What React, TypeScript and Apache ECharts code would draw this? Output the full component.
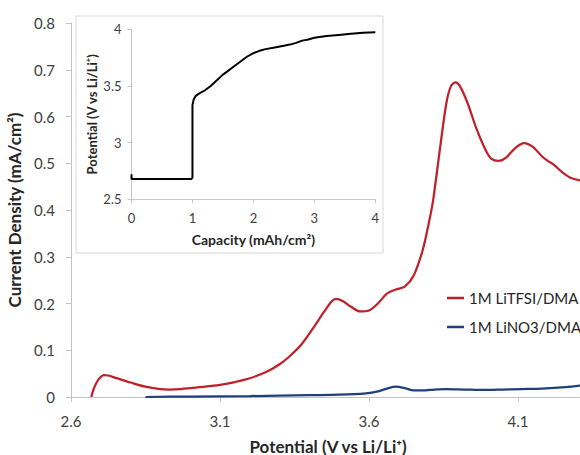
import React, { useEffect, useRef } from "react";
import * as echarts from "echarts";

// Main chart: potential (V vs Li/Li+) vs current density (mA/cm2)
const tfsiPotential = [2.668, 2.675, 2.685, 2.697, 2.71, 2.725, 2.75, 2.8, 2.85, 2.9, 2.93, 2.97, 3.0, 3.05, 3.1, 3.15, 3.2, 3.26, 3.3, 3.33, 3.37, 3.41, 3.45, 3.475, 3.49, 3.51, 3.54, 3.57, 3.6, 3.63, 3.66, 3.69, 3.72, 3.75, 3.78, 3.8, 3.815, 3.84, 3.86, 3.875, 3.89, 3.905, 3.93, 3.96, 3.99, 4.01, 4.035, 4.06, 4.09, 4.12, 4.15, 4.18, 4.2, 4.22, 4.25, 4.28, 4.32];
const tfsiCurrent = [0, 0.015, 0.03, 0.041, 0.047, 0.046, 0.041, 0.031, 0.022, 0.017, 0.016, 0.017, 0.019, 0.022, 0.026, 0.032, 0.04, 0.055, 0.07, 0.085, 0.11, 0.145, 0.183, 0.205, 0.21, 0.206, 0.193, 0.183, 0.185, 0.2, 0.221, 0.23, 0.236, 0.26, 0.314, 0.37, 0.42, 0.54, 0.63, 0.665, 0.673, 0.665, 0.63, 0.575, 0.53, 0.51, 0.505, 0.512, 0.532, 0.543, 0.535, 0.515, 0.505, 0.497, 0.48, 0.468, 0.462];

const no3Potential = [2.85, 3.0, 3.2, 3.4, 3.5, 3.59, 3.63, 3.66, 3.69, 3.72, 3.75, 3.78, 3.82, 3.86, 3.92, 3.99, 4.05, 4.11, 4.18, 4.26, 4.32];
const no3Current = [0, 0.001, 0.002, 0.004, 0.005, 0.008, 0.012, 0.018, 0.022, 0.019, 0.014, 0.014, 0.016, 0.017, 0.016, 0.015, 0.016, 0.017, 0.018, 0.021, 0.025];

// Inset: capacity (mAh/cm2) vs potential (V vs Li/Li+)
const insetCapacity = [0, 0, 0.02, 0.5, 0.98, 1.0, 1.0, 1.02, 1.05, 1.1, 1.2, 1.3, 1.4, 1.5, 1.6, 1.7, 1.8, 1.9, 2.0, 2.1, 2.2, 2.35, 2.5, 2.6, 2.7, 2.8, 2.9, 3.0, 3.2, 3.4, 3.6, 3.8, 4.0];
const insetPotential = [2.72, 2.68, 2.68, 2.68, 2.68, 2.69, 3.33, 3.38, 3.41, 3.43, 3.46, 3.5, 3.55, 3.6, 3.64, 3.68, 3.72, 3.76, 3.79, 3.81, 3.825, 3.84, 3.855, 3.865, 3.88, 3.9, 3.91, 3.925, 3.94, 3.95, 3.96, 3.97, 3.975];

const seriesNames = ["1M LiTFSI/DMA", "1M LiNO3/DMA"];

const FONT = "Lato, 'Noto Sans', sans-serif";
const AXIS_GRAY = "#c4c4c4";
const LABEL = "#404040";
const TITLE = "#262626";

const zip = (a: number[], b: number[]) => a.map((v, i) => [v, b[i]]);

export default function App() {
  const ref = useRef<HTMLDivElement>(null);
  useEffect(() => {
    if (!ref.current) return;
    const chart = echarts.init(ref.current, null, { renderer: "svg" });
    chart.setOption({
      animation: false,
      backgroundColor: "#fff",
      grid: [
        { left: 71, width: 596, top: 23, height: 374, outerBoundsMode: "none", containLabel: false },
        { left: 131.5, top: 29.3, width: 243.8, height: 170, outerBoundsMode: "none", containLabel: false },
      ],
      xAxis: [
        {
          type: "value",
          gridIndex: 0,
          min: 2.6,
          max: 4.6,
          interval: 0.5,
          splitLine: { show: false },
          axisLine: { lineStyle: { color: AXIS_GRAY, width: 1 } },
          axisTick: { show: true, length: 5, lineStyle: { color: AXIS_GRAY } },
          axisLabel: {
            margin: 16,
            fontSize: 15,
            color: LABEL,
            fontFamily: FONT,
            formatter: (v: number) => (v > 4.4 ? "" : v.toFixed(1)),
          },
        },
        {
          type: "value",
          gridIndex: 1,
          min: 0,
          max: 4,
          interval: 1,
          splitLine: { show: false },
          axisLine: { lineStyle: { color: AXIS_GRAY, width: 1 } },
          axisTick: { show: true, length: 4, lineStyle: { color: AXIS_GRAY } },
          axisLabel: { margin: 12, fontSize: 13, color: LABEL, fontFamily: FONT },
          name: "Capacity (mAh/cm²)",
          nameLocation: "middle",
          nameGap: 33,
          nameTextStyle: { fontSize: 14, fontWeight: "bold", color: TITLE, fontFamily: FONT },
        },
      ],
      yAxis: [
        {
          type: "value",
          gridIndex: 0,
          min: 0,
          max: 0.8,
          interval: 0.1,
          splitLine: { show: false },
          axisLine: { show: true, lineStyle: { color: AXIS_GRAY, width: 1 } },
          axisTick: { show: true, length: 5, lineStyle: { color: AXIS_GRAY } },
          axisLabel: { margin: 16, fontSize: 15, color: LABEL, fontFamily: FONT },
          name: "Current Density (mA/cm²)",
          nameLocation: "middle",
          nameGap: 42,
          nameTextStyle: { fontSize: 17, fontWeight: "bold", color: TITLE, fontFamily: FONT },
        },
        {
          type: "value",
          gridIndex: 1,
          min: 2.5,
          max: 4,
          interval: 0.5,
          splitLine: { show: false },
          axisLine: { show: true, lineStyle: { color: AXIS_GRAY, width: 1 } },
          axisTick: { show: true, length: 4, lineStyle: { color: AXIS_GRAY } },
          axisLabel: { margin: 10, fontSize: 13, color: LABEL, fontFamily: FONT },
          name: "Potential (V vs Li/Li⁺)",
          nameLocation: "middle",
          nameGap: 33,
          nameTextStyle: { fontSize: 13, fontWeight: "bold", color: TITLE, fontFamily: FONT },
        },
      ],
      legend: {
        orient: "vertical",
        left: 442,
        top: 284,
        icon: "rect",
        itemWidth: 17,
        itemHeight: 2.5,
        itemGap: 11,
        data: seriesNames,
        textStyle: { fontSize: 15, color: TITLE, fontFamily: FONT, lineHeight: 18 },
      },
      graphic: [
        {
          type: "rect",
          shape: { x: 76, y: 16, width: 307, height: 237 },
          style: { fill: "transparent", stroke: "#d9d9d9", lineWidth: 1 },
          z: 0,
          silent: true,
        },
        {
          type: "text",
          x: 328,
          y: 446,
          style: {
            text: "Potential (V vs Li/Li⁺)",
            fontSize: 17,
            fontWeight: "bold",
            fontFamily: FONT,
            fill: TITLE,
            align: "center",
            verticalAlign: "middle",
          },
        },
      ],
      series: [
        {
          name: seriesNames[0],
          type: "line",
          xAxisIndex: 0,
          yAxisIndex: 0,
          data: zip(tfsiPotential, tfsiCurrent),
          showSymbol: false,
          symbol: "none",
          smooth: 0.3,
          lineStyle: { color: "#c0202a", width: 2.25 },
          itemStyle: { color: "#c0202a" },
        },
        {
          name: seriesNames[1],
          type: "line",
          xAxisIndex: 0,
          yAxisIndex: 0,
          data: zip(no3Potential, no3Current),
          showSymbol: false,
          symbol: "none",
          smooth: 0.3,
          lineStyle: { color: "#203f7e", width: 2.25 },
          itemStyle: { color: "#203f7e" },
        },
        {
          name: "inset",
          type: "line",
          xAxisIndex: 1,
          yAxisIndex: 1,
          data: zip(insetCapacity, insetPotential),
          showSymbol: false,
          symbol: "none",
          lineStyle: { color: "#000", width: 2 },
          itemStyle: { color: "#000" },
        },
      ],
    });
    return () => chart.dispose();
  }, []);
  return (
    <div
      ref={ref}
      style={{ position: "fixed", left: 0, top: 0, width: 580, height: 455 }}
    />
  );
}
